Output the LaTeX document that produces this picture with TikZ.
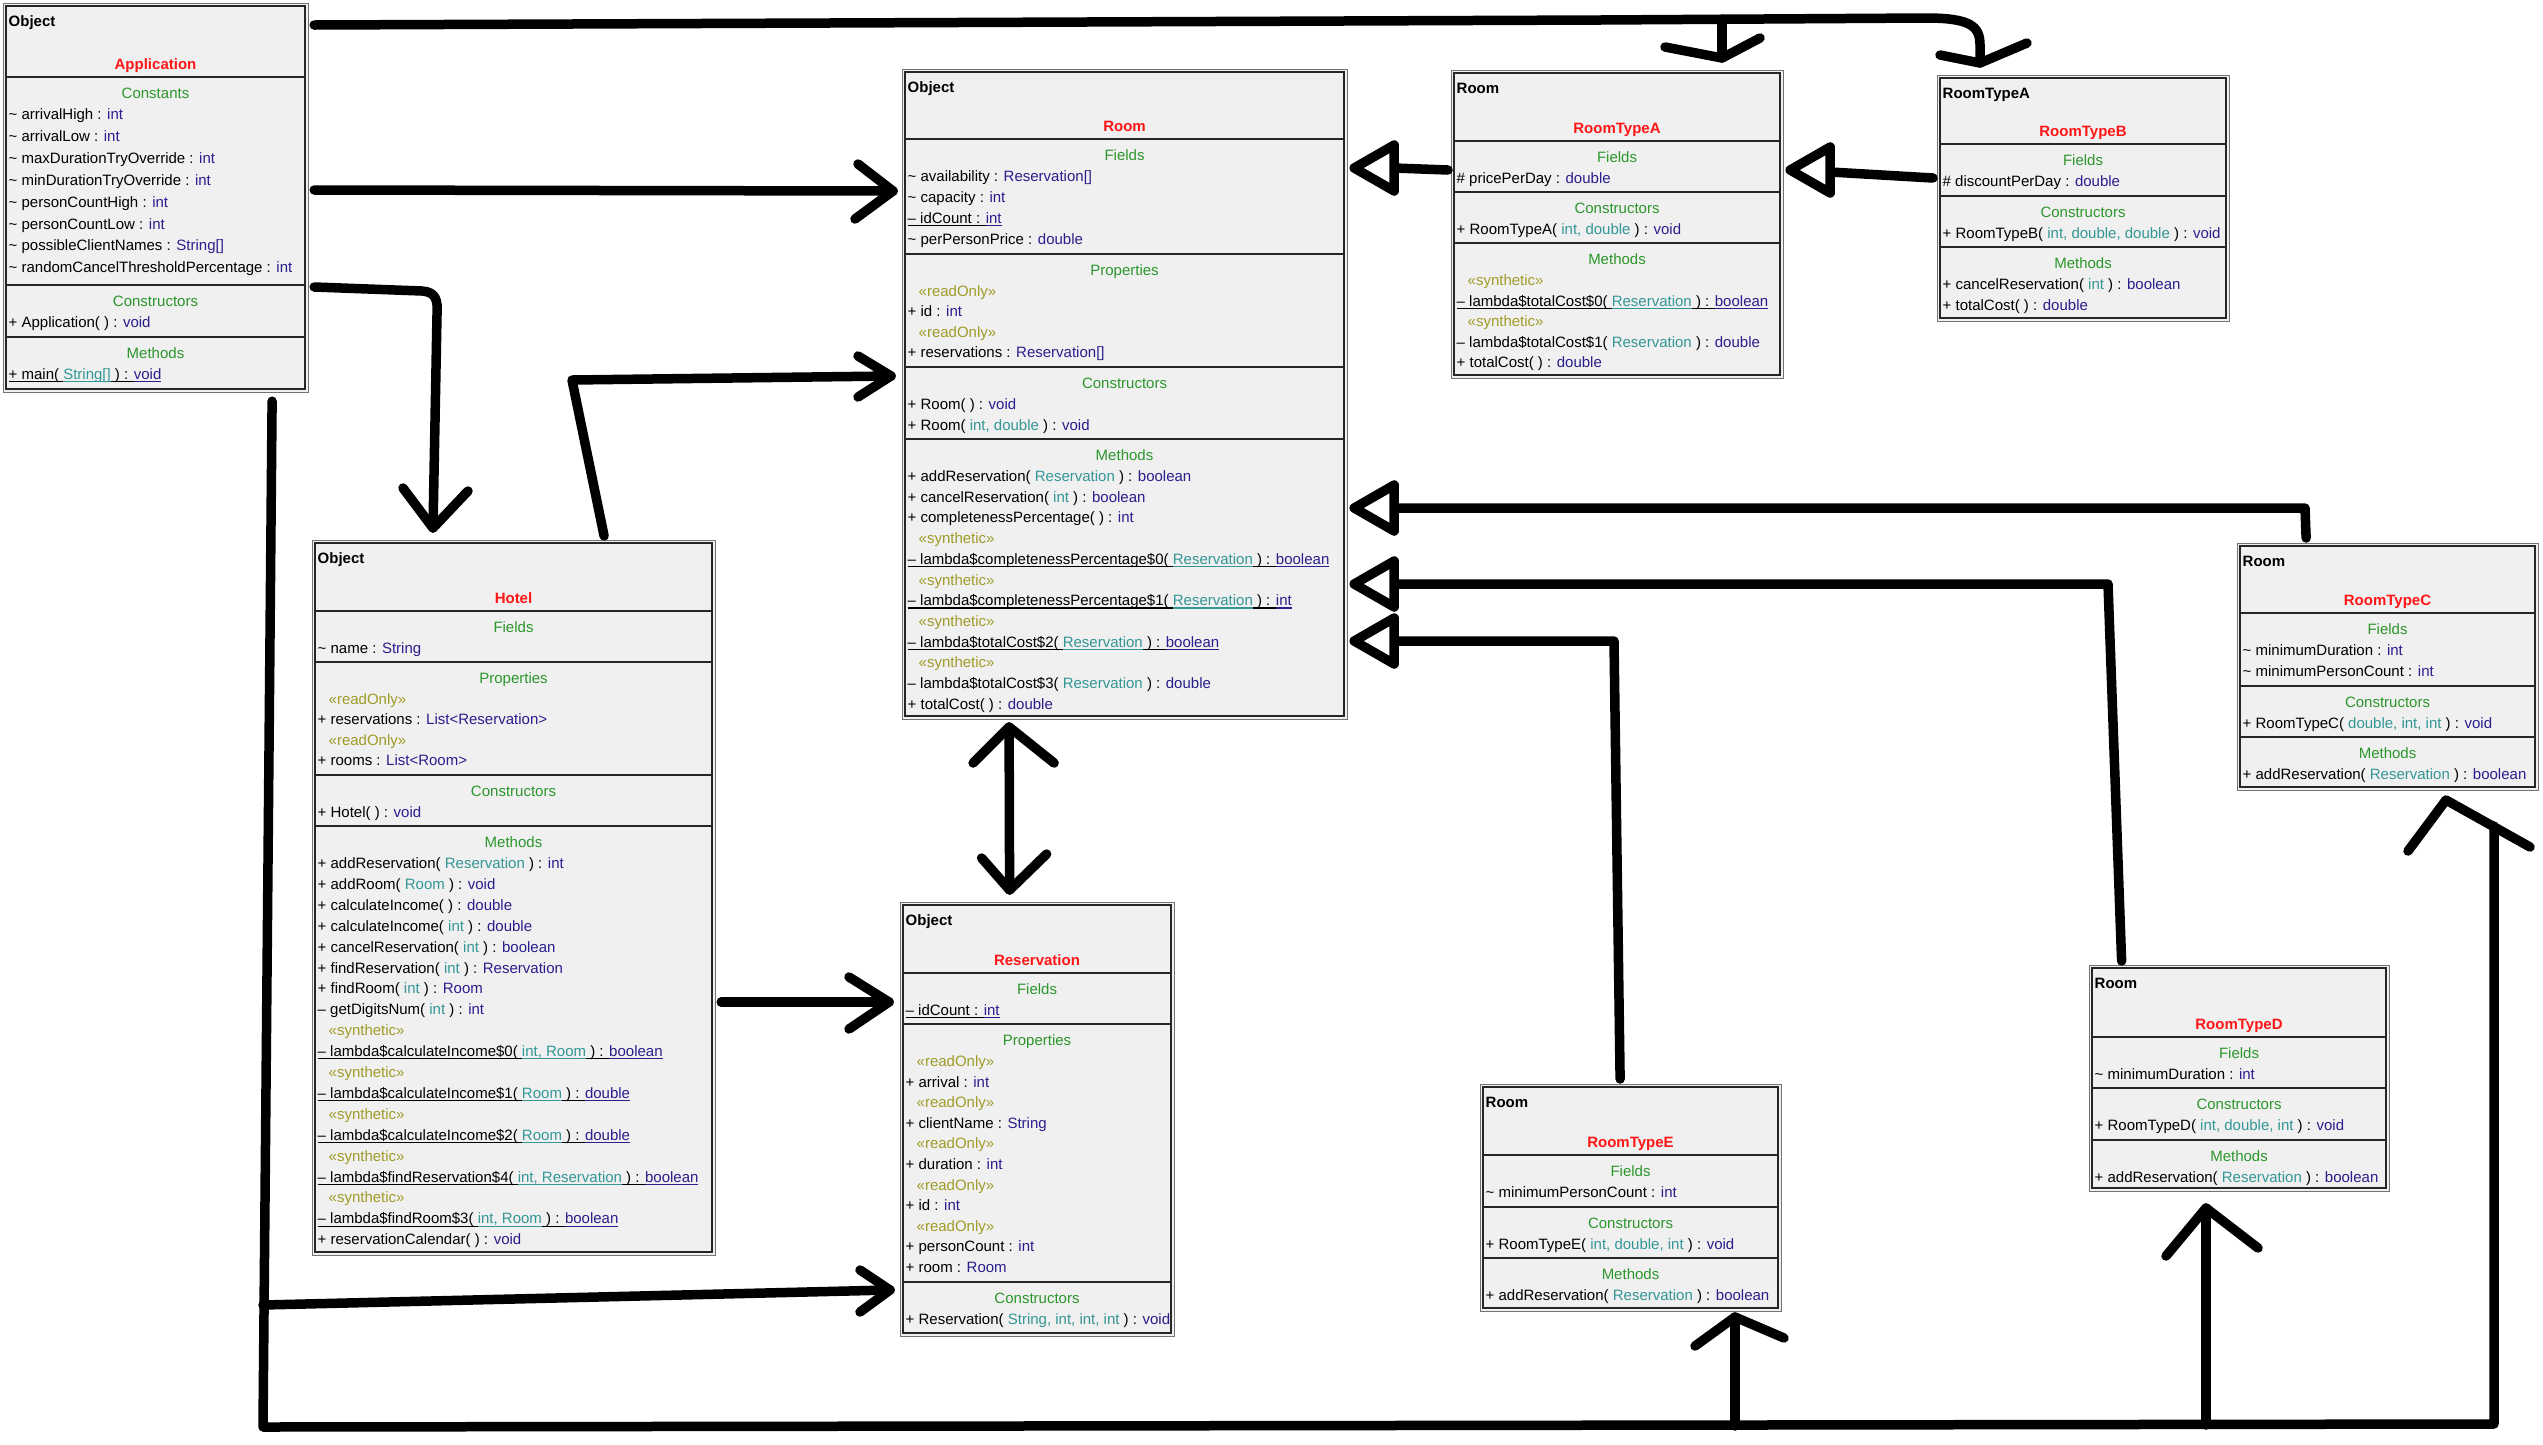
\documentclass[tikz,border=0pt]{standalone}
\usepackage{fontspec}
\setmainfont{Liberation Sans}
\usetikzlibrary{calc}

\definecolor{boxfill}{RGB}{240,240,240}
\definecolor{hdgreen}{RGB}{44,150,44}
\definecolor{clsred}{RGB}{255,22,22}
\definecolor{typ}{RGB}{42,30,140}
\definecolor{prm}{RGB}{52,150,150}
\definecolor{ster}{RGB}{160,155,40}

\newcommand\umlfont{\fontsize{15}{18}\selectfont}

% underlining of static members, each coloured part with its own colour
\newsavebox\ulsave
\newif\ifundl
\newcommand\ulbox[1]{\sbox\ulsave{#1}\rlap{\rule[-2.8pt]{\wd\ulsave}{1.1pt}}\usebox\ulsave}
\newcommand\ty[1]{\textcolor{typ}{\ifundl\ulbox{#1}\else#1\fi}}
\newcommand\pa[1]{\textcolor{prm}{\ifundl\ulbox{#1}\else#1\fi}}
\newcommand\U[1]{{\undltrue\ulbox{#1}}}
\newcommand\st[1]{\hspace*{11pt}\textcolor{ster}{«#1»}}
\newcommand\tld{\textasciitilde}

\tikzset{
  cls/.style={draw=black!55, line width=1.2pt, fill=boxfill, inner sep=0pt},
  innerframe/.style={draw=black!85, line width=2pt},
  sep/.style={draw=black!85, line width=2.4pt},
  parent/.style={anchor=base west, inner sep=0pt, font=\umlfont\bfseries},
  cname/.style={anchor=base, inner sep=0pt, font=\umlfont\bfseries, text=clsred},
  hd/.style={anchor=base, inner sep=0pt, text=hdgreen},
  row/.style={anchor=base west, inner sep=0pt},
  conn/.style={draw=black, line width=9.5pt, line cap=round, line join=round},
}

% #1 name, #2 x, #3 y, #4 width, #5 height, #6 parent, #7 class, #8 header bottom
\newcommand\classbox[8]{%
  \node[cls, minimum width=#4pt, minimum height=#5pt, anchor=north west] (#1) at (#2,#3) {};
  \draw[innerframe] (#2+3,#3+3) rectangle (#2+#4-3,#3+#5-3);
  \node[parent] (#1-par) at (#2+5.5,#3+23.5) {#6};
  \node[cname] (#1-name) at ({#2+#4/2},#8-7.5) {#7};
}
% #1 name, #2 left, #3 right, #4 top, #5 row step, #6 heading, #7 rows
\newcommand\compart[7]{%
  \draw[sep] (#2+2,#4) -- (#3-2,#4);
  \node[hd] (#1-h) at ({(#2+#3)/2},#4+21.5) {#6};
  \foreach \rw [count=\i] in {#7}
    \node[row] (#1-\i) at (#2+5.5,{#4+42.5+(\i-1)*#5}) {\rw};
}
\newcommand\barbs[5]{\draw[conn] ($(#1)+(#2,#3)$) -- (#1) -- ($(#1)+(#4,#5)$);}
\newcommand\htri[1]{\draw[conn, fill=white] (#1) -- ++(40,-23) -- ++(0,46) -- cycle;}

\begin{document}
\begin{tikzpicture}[x=1pt, y=-1pt, font=\umlfont]
\useasboundingbox (0,0) rectangle (2543,1444);
\fill[white] (0,0) rectangle (2543,1444);

% ---------------- Application ----------------
\classbox{app}{3}{3}{305}{389}{Object}{Application}{77}
\compart{appc}{3}{308}{77}{21.9}{Constants}{
  {\tld{} arrivalHigh : \ty{int}},
  {\tld{} arrivalLow : \ty{int}},
  {\tld{} maxDurationTryOverride : \ty{int}},
  {\tld{} minDurationTryOverride : \ty{int}},
  {\tld{} personCountHigh : \ty{int}},
  {\tld{} personCountLow : \ty{int}},
  {\tld{} possibleClientNames : \ty{String[]}},
  {\tld{} randomCancelThresholdPercentage : \ty{int}}}
\compart{appk}{3}{308}{285}{21.9}{Constructors}{{+ Application( ) : \ty{void}}}
\compart{appm}{3}{308}{337}{21.9}{Methods}{{\U{+ main( \pa{String[]} ) : \ty{void}}}}

% ---------------- Room ----------------
\classbox{room}{902}{69}{445}{650}{Object}{Room}{139}
\compart{roomf}{902}{1347}{139}{21}{Fields}{
  {\tld{} availability : \ty{Reservation[]}},
  {\tld{} capacity : \ty{int}},
  {\U{– idCount : \ty{int}}},
  {\tld{} perPersonPrice : \ty{double}}}
\compart{roomp}{902}{1347}{254}{20.3}{Properties}{
  {\st{readOnly}},
  {+ id : \ty{int}},
  {\st{readOnly}},
  {+ reservations : \ty{Reservation[]}}}
\compart{roomk}{902}{1347}{367}{21}{Constructors}{
  {+ Room( ) : \ty{void}},
  {+ Room( \pa{int, double} ) : \ty{void}}}
\compart{roomm}{902}{1347}{439}{20.7}{Methods}{
  {+ addReservation( \pa{Reservation} ) : \ty{boolean}},
  {+ cancelReservation( \pa{int} ) : \ty{boolean}},
  {+ completenessPercentage( ) : \ty{int}},
  {\st{synthetic}},
  {\U{– lambda\$completenessPercentage\$0( \pa{Reservation} ) : \ty{boolean}}},
  {\st{synthetic}},
  {\U{– lambda\$completenessPercentage\$1( \pa{Reservation} ) : \ty{int}}},
  {\st{synthetic}},
  {\U{– lambda\$totalCost\$2( \pa{Reservation} ) : \ty{boolean}}},
  {\st{synthetic}},
  {– lambda\$totalCost\$3( \pa{Reservation} ) : \ty{double}},
  {+ totalCost( ) : \ty{double}}}

% ---------------- RoomTypeA ----------------
\classbox{rta}{1451}{70}{332}{308}{Room}{RoomTypeA}{141}
\compart{rtaf}{1451}{1783}{141}{21}{Fields}{{\# pricePerDay : \ty{double}}}
\compart{rtak}{1451}{1783}{192}{21}{Constructors}{{+ RoomTypeA( \pa{int, double} ) : \ty{void}}}
\compart{rtam}{1451}{1783}{243}{20.5}{Methods}{
  {\st{synthetic}},
  {\U{– lambda\$totalCost\$0( \pa{Reservation} ) : \ty{boolean}}},
  {\st{synthetic}},
  {– lambda\$totalCost\$1( \pa{Reservation} ) : \ty{double}},
  {+ totalCost( ) : \ty{double}}}

% ---------------- RoomTypeB ----------------
\classbox{rtb}{1937}{75}{292}{246}{RoomTypeA}{RoomTypeB}{144}
\compart{rtbf}{1937}{2229}{144}{21}{Fields}{{\# discountPerDay : \ty{double}}}
\compart{rtbk}{1937}{2229}{196}{21}{Constructors}{{+ RoomTypeB( \pa{int, double, double} ) : \ty{void}}}
\compart{rtbm}{1937}{2229}{247}{21}{Methods}{
  {+ cancelReservation( \pa{int} ) : \ty{boolean}},
  {+ totalCost( ) : \ty{double}}}

% ---------------- Hotel ----------------
\classbox{hotel}{312}{540}{403}{715}{Object}{Hotel}{611}
\compart{hotf}{312}{715}{611}{21}{Fields}{{\tld{} name : \ty{String}}}
\compart{hotp}{312}{715}{662}{20.3}{Properties}{
  {\st{readOnly}},
  {+ reservations : \ty{List<Reservation>}},
  {\st{readOnly}},
  {+ rooms : \ty{List<Room>}}}
\compart{hotk}{312}{715}{775}{21}{Constructors}{{+ Hotel( ) : \ty{void}}}
\compart{hotm}{312}{715}{826}{20.9}{Methods}{
  {+ addReservation( \pa{Reservation} ) : \ty{int}},
  {+ addRoom( \pa{Room} ) : \ty{void}},
  {+ calculateIncome( ) : \ty{double}},
  {+ calculateIncome( \pa{int} ) : \ty{double}},
  {+ cancelReservation( \pa{int} ) : \ty{boolean}},
  {+ findReservation( \pa{int} ) : \ty{Reservation}},
  {+ findRoom( \pa{int} ) : \ty{Room}},
  {– getDigitsNum( \pa{int} ) : \ty{int}},
  {\st{synthetic}},
  {\U{– lambda\$calculateIncome\$0( \pa{int, Room} ) : \ty{boolean}}},
  {\st{synthetic}},
  {\U{– lambda\$calculateIncome\$1( \pa{Room} ) : \ty{double}}},
  {\st{synthetic}},
  {\U{– lambda\$calculateIncome\$2( \pa{Room} ) : \ty{double}}},
  {\st{synthetic}},
  {\U{– lambda\$findReservation\$4( \pa{int, Reservation} ) : \ty{boolean}}},
  {\st{synthetic}},
  {\U{– lambda\$findRoom\$3( \pa{int, Room} ) : \ty{boolean}}},
  {+ reservationCalendar( ) : \ty{void}}}

% ---------------- Reservation ----------------
\classbox{res}{900}{902}{274}{434}{Object}{Reservation}{973}
\compart{resf}{900}{1174}{973}{21}{Fields}{{\U{– idCount : \ty{int}}}}
\compart{resp}{900}{1174}{1024}{20.6}{Properties}{
  {\st{readOnly}},
  {+ arrival : \ty{int}},
  {\st{readOnly}},
  {+ clientName : \ty{String}},
  {\st{readOnly}},
  {+ duration : \ty{int}},
  {\st{readOnly}},
  {+ id : \ty{int}},
  {\st{readOnly}},
  {+ personCount : \ty{int}},
  {+ room : \ty{Room}}}
\compart{resk}{900}{1174}{1282}{21}{Constructors}{{+ Reservation( \pa{String, int, int, int} ) : \ty{void}}}

% ---------------- RoomTypeC ----------------
\classbox{rtc}{2237}{543}{301}{247}{Room}{RoomTypeC}{613}
\compart{rtcf}{2237}{2538}{613}{21}{Fields}{
  {\tld{} minimumDuration : \ty{int}},
  {\tld{} minimumPersonCount : \ty{int}}}
\compart{rtck}{2237}{2538}{686}{21}{Constructors}{{+ RoomTypeC( \pa{double, int, int} ) : \ty{void}}}
\compart{rtcm}{2237}{2538}{737}{21}{Methods}{{+ addReservation( \pa{Reservation} ) : \ty{boolean}}}

% ---------------- RoomTypeD ----------------
\classbox{rtd}{2089}{965}{300}{226}{Room}{RoomTypeD}{1037}
\compart{rtdf}{2089}{2389}{1037}{21}{Fields}{{\tld{} minimumDuration : \ty{int}}}
\compart{rtdk}{2089}{2389}{1088}{21}{Constructors}{{+ RoomTypeD( \pa{int, double, int} ) : \ty{void}}}
\compart{rtdm}{2089}{2389}{1140}{21}{Methods}{{+ addReservation( \pa{Reservation} ) : \ty{boolean}}}

% ---------------- RoomTypeE ----------------
\classbox{rte}{1480}{1084}{301}{227}{Room}{RoomTypeE}{1155}
\compart{rtef}{1480}{1781}{1155}{21}{Fields}{{\tld{} minimumPersonCount : \ty{int}}}
\compart{rtek}{1480}{1781}{1207}{21}{Constructors}{{+ RoomTypeE( \pa{int, double, int} ) : \ty{void}}}
\compart{rtem}{1480}{1781}{1258}{21}{Methods}{{+ addReservation( \pa{Reservation} ) : \ty{boolean}}}

% ================= connectors =================
% Application -> RoomTypeA and RoomTypeB along the top
\coordinate (tA) at (1722,58);
\coordinate (tB) at (1980,63);
\draw[conn] ($(app.east|-0,25)+(5,0)$) -- (1600,20) -- (1926,18)
  .. controls (1970,18) and (1980,26) .. (1980,45) -- (tB);
\draw[conn] (tA|-0,19) -- (tA);
\barbs{tA}{-57}{-11}{38}{-20}
\barbs{tB}{-40}{-8}{47}{-20}

% Application -> Room
\coordinate (tR1) at ($(room.west|-0,191)+(-9,0)$);
\draw[conn] ($(app.east|-0,190)+(5,0)$) -- (tR1);
\barbs{tR1}{-35}{-27}{-38}{28}

% Application -> Hotel
\coordinate (tH) at (433,528);
\draw[conn] ($(app.east|-0,287)+(5,0)$) -- (422,291)
  .. controls (436,292) and (438,300) .. (437,315) -- (tH);
\barbs{tH}{-30}{-40}{35}{-37}

% Application -> Reservation, RoomTypeE, RoomTypeD, RoomTypeC along the bottom
\coordinate (busL) at (263,1427);
\coordinate (busR) at (2494,1424);
\coordinate (tC) at (2446,800);
\draw[conn] ($(app.south)+(116,8)$) -- (busL) -- (busR) -- (2494,826);
\barbs{tC}{-38}{51}{84}{47}
\coordinate (tE) at (1735,1317);
\draw[conn] (tE|-0,1426) -- (tE);
\barbs{tE}{-40}{29}{49}{21}
\coordinate (tD) at (2206,1208);
\draw[conn] (tD|-0,1425) -- (tD);
\barbs{tD}{-40}{48}{52}{40}
\coordinate (tRes) at ($(res.west|-0,1290)+(-10,0)$);
\draw[conn] (busL|-0,1305) -- (tRes);
\barbs{tRes}{-30}{-20}{-30}{22}

% Hotel -> Room
\coordinate (tR2) at ($(room.west|-0,376)+(-11,0)$);
\draw[conn] ($(hotel.north)+(90,-4)$) -- (572,380) -- (tR2);
\barbs{tR2}{-33}{-20}{-33}{21}

% Hotel -> Reservation
\coordinate (tRes2) at ($(res.west|-0,1002)+(-11,0)$);
\draw[conn] ($(hotel.east|-0,1002)+(5,0)$) -- (tRes2);
\barbs{tRes2}{-40}{-25}{-40}{27}

% Room <-> Reservation
\coordinate (tG1) at ($(room.south|-0,727)+(-116,0)$);
\coordinate (tG2) at ($(res.north|-0,890)+(-28,0)$);
\draw[conn] (tG1) -- (tG2);
\barbs{tG1}{-36}{36}{45}{36}
\barbs{tG2}{-28}{-32}{37}{-36}

% generalisations (open triangles at the parent)
\coordinate (iA) at ($(room.east|-0,168)+(6,0)$);
\draw[conn] ($(iA)+(40,0)$) -- ($(rta.west|-0,170)+(-3,0)$);
\htri{iA}
\coordinate (iB) at ($(rta.east|-0,170)+(6,0)$);
\draw[conn] ($(iB)+(40,2)$) -- ($(rtb.west|-0,178)+(-4,0)$);
\htri{iB}
\coordinate (iC) at ($(room.east|-0,508)+(6,0)$);
\draw[conn] ($(rtc.north|-0,538)+(-82,0)$) -- (2305,508) -- ($(iC)+(40,0)$);
\htri{iC}
\coordinate (iD) at ($(room.east|-0,584)+(6,0)$);
\draw[conn] ($(rtd.north|-0,961)+(-118,0)$) -- (2108,584) -- ($(iD)+(40,0)$);
\htri{iD}
\coordinate (iE) at ($(room.east|-0,641)+(6,0)$);
\draw[conn] ($(rte.north|-0,1079)+(-11,0)$) -- (1614,641) -- ($(iE)+(40,0)$);
\htri{iE}
\end{tikzpicture}
\end{document}
